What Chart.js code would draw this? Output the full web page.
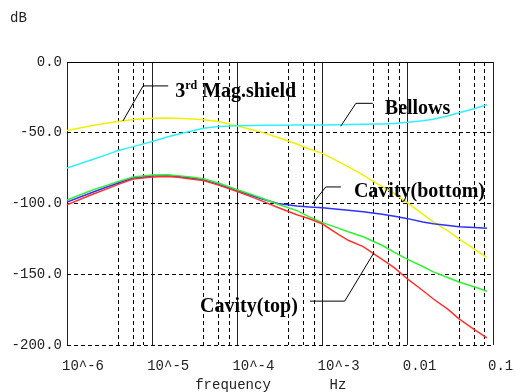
<!DOCTYPE html>
<html><head><meta charset="utf-8">
<script src="https://cdn.jsdelivr.net/npm/chart.js@4/dist/chart.umd.min.js"></script>
<style>html,body{margin:0;padding:0;background:#fff;}</style>
</head><body>
<canvas id="c" width="515" height="392"></canvas>
<script>
// ---- data (frequency in Hz, response in dB) ----
const freq = [1e-6,2e-6,3e-6,4e-6,6e-6,1e-5,1.5e-5,2e-5,3e-5,4e-5,6e-5,1e-4,1.5e-4,2e-4,3e-4,5e-4,7e-4,1e-3,1.5e-3,2e-3,3e-3,5e-3,7e-3,1e-2,1.5e-2,2e-2,3e-2,4e-2,6e-2,8.5e-2];
const magShield = [-48.5,-44.8,-43.1,-42,-40.7,-39.8,-39.6,-39.7,-40.2,-40.8,-42.1,-45.3,-47.9,-49.9,-53.3,-58,-61.5,-64.6,-70,-74,-80,-88,-93,-99.5,-107.5,-113,-119.6,-125,-132,-138];
const bellows = [-75,-68.9,-65.3,-62.5,-59.8,-56.2,-53,-51,-48.6,-46.8,-45.6,-45,-44.8,-44.7,-44.7,-44.6,-44.5,-44.5,-44.3,-44.2,-44,-43.8,-43.5,-42.5,-41.6,-40.5,-38,-35.8,-33,-30.2];
const cavityBottom = [-99,-92,-88.2,-85.5,-82,-80.5,-80.3,-81,-82.2,-83.2,-86.5,-91,-94.5,-97,-100,-101.8,-102.4,-103,-104,-104.8,-105.8,-107.6,-109,-110.7,-113,-114.3,-115.6,-116.4,-117,-117.5];
const greenSeries = [-97.5,-90.5,-87,-84.5,-81.2,-79.8,-79.6,-80.3,-81.5,-82.5,-85.5,-90.3,-93.8,-96.5,-100.5,-105,-109.5,-113.5,-117.2,-120,-123.5,-129.5,-134.5,-139.5,-144.5,-148.3,-152.5,-155.5,-158.8,-162];
const cavityTop = [-101,-93.5,-89.5,-86.5,-82.7,-81.2,-81,-81.5,-82.8,-83.8,-87,-91.5,-95.5,-98.5,-102.8,-108,-110.8,-114.5,-121.5,-126,-130.5,-139.5,-145.5,-153.5,-161.5,-167.5,-175,-181.5,-189,-195];

const decadeTicks = [1e-6,1e-5,1e-4,1e-3,1e-2,1e-1];
const decadeLabels = ['10^-6','10^-5','10^-4','10^-3','0.01','0.1'];
const minorTicks = [4e-6,6e-6,8e-6,4e-5,6e-5,8e-5,4e-4,6e-4,8e-4,4e-3,6e-3,8e-3,4e-2,6e-2,8e-2];
const yTicks = [0,-50,-100,-150,-200];

// annotation labels: text, anchor (Hz, dB) of text baseline-left, leader path in (Hz, dB)
const notes = [
  {text:'Mag.shield', pre:'3', sup:'rd', at:[1.86e-5,-24.6], path:[[4.53e-6,-41.7],[7.83e-6,-16.9],[1.54e-5,-16.9]]},
  {text:'Bellows', at:[5.37e-3,-36.9], path:[[1.63e-3,-45.4],[2.46e-3,-29.2],[3.89e-3,-29.2]]},
  {text:'Cavity(bottom)', at:[2.33e-3,-95.5], path:[[7.64e-4,-100.0],[1.09e-3,-88.3],[1.64e-3,-88.3]]},
  {text:'Cavity(top)', at:[3.65e-5,-176.5], path:[[7.11e-4,-169.0],[1.82e-3,-169.0],[3.99e-3,-134.9]]}
];

const toPts = arr => arr.map((v,i)=>({x:freq[i], y:v}));
const mono = 'Liberation Mono, DejaVu Sans Mono, monospace';

const notePlugin = {
  id:'notes',
  afterDraw(chart){
    const ctx = chart.ctx, xs = chart.scales.x, ys = chart.scales.y;
    ctx.save();
    ctx.strokeStyle = '#000'; ctx.lineWidth = 1;
    notes.forEach(n=>{
      ctx.beginPath();
      n.path.forEach((p,i)=>{
        const px = xs.getPixelForValue(p[0]), py = ys.getPixelForValue(p[1]);
        if(i===0) ctx.moveTo(px,py); else ctx.lineTo(px,py);
      });
      ctx.stroke();
      let x = xs.getPixelForValue(n.at[0]); const y = ys.getPixelForValue(n.at[1]);
      ctx.fillStyle = '#000'; ctx.textBaseline = 'alphabetic'; ctx.textAlign = 'left';
      ctx.font = 'bold 20px "Liberation Serif", "Times New Roman", serif';
      if(n.pre){
        ctx.fillText(n.pre, x, y); x += ctx.measureText(n.pre).width;
        ctx.font = 'bold 12px "Liberation Serif", serif';
        ctx.fillText(n.sup, x, y-8); x += ctx.measureText(n.sup).width + 5;
        ctx.font = 'bold 20px "Liberation Serif", "Times New Roman", serif';
      }
      ctx.fillText(n.text, x, y);
    });
    // axis captions
    ctx.font = '14px ' + mono; ctx.fillStyle = '#222'; ctx.textBaseline = 'middle';
    ctx.textAlign = 'left'; ctx.fillText('dB', 10, 18);
    ctx.textAlign = 'center';
    ctx.fillText('frequency', 233, 385);
    ctx.fillText('Hz', 338, 385);
    ctx.restore();
  }
};

new Chart(document.getElementById('c'), {
  type:'line',
  data:{datasets:[
    {label:'Cavity(top)', data:toPts(cavityTop), borderColor:'#ff3030'},
    {label:'green', data:toPts(greenSeries), borderColor:'#30f030'},
    {label:'Cavity(bottom)', data:toPts(cavityBottom), borderColor:'#3030ff'},
    {label:'Bellows', data:toPts(bellows), borderColor:'#30f0ff'},
    {label:'3rd Mag.shield', data:toPts(magShield), borderColor:'#f0f000'}
  ].map(d=>Object.assign(d,{borderWidth:1.5, pointRadius:0, tension:0, fill:false}))},
  options:{
    responsive:false, animation:false,
    layout:{padding:{left:0,right:22,top:62,bottom:0}},
    plugins:{legend:{display:false}, tooltip:{enabled:false}, title:{display:false}},
    scales:{
      x:{type:'logarithmic', position:'bottom', min:1e-6, max:1e-1,
        afterBuildTicks:s=>{s.ticks = decadeTicks.map(v=>({value:v}));},
        afterFit:s=>{s.height=47; s.paddingLeft=0; s.paddingRight=0;},
        grid:{color:'#222', lineWidth:1, drawTicks:false},
        border:{display:false},
        ticks:{autoSkip:false, maxRotation:0, align:'start', labelOffset:-5, padding:13, color:'#222',
          font:{family:mono, size:14},
          callback:(v,i)=>decadeLabels[i]}
      },
      x2:{type:'logarithmic', position:'bottom', min:1e-6, max:1e-1,
        afterBuildTicks:s=>{s.ticks = minorTicks.map(v=>({value:v}));},
        afterFit:s=>{s.height=0; s.paddingLeft=0; s.paddingRight=0;},
        grid:{color:'#000', lineWidth:1, drawTicks:false},
        border:{display:false, dash:[4,3]},
        ticks:{display:false}
      },
      y:{min:-200, max:0,
        afterBuildTicks:s=>{s.ticks = yTicks.map(v=>({value:v}));},
        afterFit:s=>{s.width=67; s.paddingTop=0; s.paddingBottom=0;},
        grid:{color:'#000', lineWidth:1, drawTicks:false},
        border:{display:false, dash:(c)=> (c.tick && c.tick.value===0) ? [] : [4,3]},
        ticks:{padding:5, color:'#222', font:{family:mono, size:14}, callback:v=>v.toFixed(1)}
      }
    }
  },
  plugins:[notePlugin]
});
</script>
</body></html>
